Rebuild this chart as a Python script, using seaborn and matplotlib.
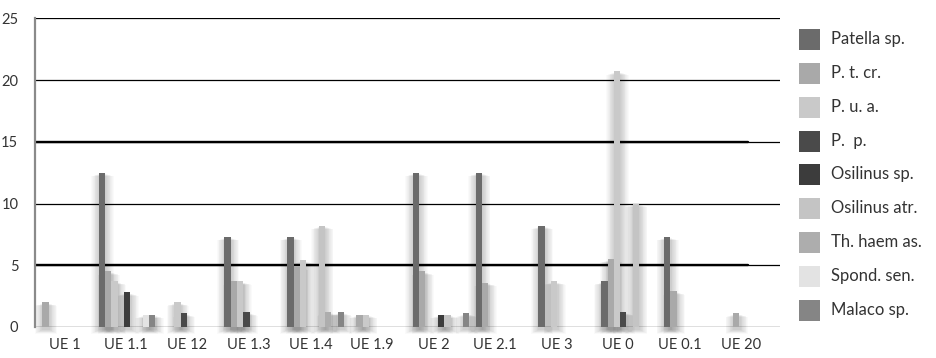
import numpy as np
import pandas as pd
import matplotlib
matplotlib.use("Agg")
import matplotlib.pyplot as plt
from matplotlib.patches import Rectangle
import seaborn as sns

# Excavation units (x categories) and taxa (series)
units = ["UE 1", "UE 1.1", "UE 12", "UE 1.3", "UE 1.4", "UE 1.9",
         "UE 2", "UE 2.1", "UE 3", "UE 0", "UE 0.1", "UE 20"]
taxa = ["Patella sp.", "P. t. cr.", "P. u. a.", "P.  p.", "Osilinus sp.",
        "Osilinus atr.", "Th. haem as.", "Spond. sen.", "Malaco sp."]

patella      = [0.0, 12.5, 0.0, 7.3, 7.3, 0.0, 12.5, 12.5, 8.2, 3.7, 7.3, 0.0]
p_t_cr       = [2.0, 4.5, 0.0, 3.7, 4.9, 1.0, 4.5, 3.6, 0.0, 5.5, 2.9, 1.1]
p_u_a        = [0.0, 3.7, 2.0, 3.7, 5.4, 1.0, 0.0, 0.0, 3.7, 20.7, 0.0, 0.0]
p_p          = [0.0, 0.0, 1.1, 1.2, 0.0, 0.0, 0.0, 0.0, 0.0, 1.2, 0.0, 0.0]
osilinus_sp  = [0.0, 2.8, 0.0, 0.0, 0.0, 0.0, 1.0, 0.0, 0.0, 0.0, 0.0, 0.0]
osilinus_atr = [0.0, 0.0, 0.0, 0.0, 8.2, 0.0, 1.0, 0.0, 0.0, 10.0, 0.0, 0.0]
th_haem      = [0.0, 0.0, 0.0, 0.0, 1.2, 0.0, 0.0, 0.0, 0.0, 0.0, 0.0, 0.0]
spond_sen    = [0.0, 1.0, 0.0, 0.0, 0.0, 0.0, 0.0, 0.0, 0.0, 0.0, 0.0, 0.0]
malaco       = [0.0, 1.0, 0.0, 0.0, 1.2, 0.0, 1.1, 0.0, 0.0, 0.0, 0.0, 0.0]

series = [patella, p_t_cr, p_u_a, p_p, osilinus_sp,
          osilinus_atr, th_haem, spond_sen, malaco]
colors = ["#6b6b6b", "#a9a9a9", "#c9c9c9", "#4a4a4a", "#3c3c3c",
          "#c4c4c4", "#adadad", "#e3e3e3", "#858585"]

df = pd.DataFrame(
    [(u, t, v) for t, vals in zip(taxa, series) for u, v in zip(units, vals)],
    columns=["unit", "taxon", "value"],
)

sns.set_theme(style="white")
plt.rcParams["font.family"] = ["Lato", "DejaVu Sans"]

W, H = 936, 358
fig = plt.figure(figsize=(W / 100, H / 100), dpi=100)
ax_left, ax_right, ax_top, ax_bottom = 35, 780, 18.3, 327
ax = fig.add_axes([ax_left / W, (H - ax_bottom) / H,
                   (ax_right - ax_left) / W, (ax_bottom - ax_top) / H])

sns.barplot(data=df, x="unit", y="value", hue="taxon",
            order=units, hue_order=taxa, palette=colors,
            width=0.9, saturation=1, dodge=True, legend=False,
            errorbar=None, linewidth=0, ax=ax, zorder=3)

ax.set_ylim(0, 25)
ax.set_xlim(-0.467, 11.396)

# pixel -> data conversion factors
px_x = (ax.get_xlim()[1] - ax.get_xlim()[0]) / (ax_right - ax_left)
px_y = 25 / (ax_bottom - ax_top)

# soft drop shadows behind the bars
for p in list(ax.patches):
    h = p.get_height()
    if h <= 0:
        continue
    x0, w = p.get_x(), p.get_width()
    for k in range(1, 11):
        pad = k * 0.8
        ax.add_patch(Rectangle(
            (x0 + (0.5 - pad) * px_x, (-2.5 - pad * 0.5) * px_y),
            w + 2 * pad * px_x, h + (1.5 + pad * 0.2) * px_y,
            facecolor="black", alpha=0.02, linewidth=0,
            zorder=1, clip_on=False))

# horizontal rules
for yv in [0, 10, 20, 25]:
    ax.axhline(yv, color="black", lw=0.9, zorder=0.5)
for yv in [5, 15]:
    ax.axhline(yv, color="black", lw=0.9, zorder=0.5)
    ax.axhline(yv, xmin=0, xmax=(748 - ax_left) / (ax_right - ax_left),
               color="black", lw=1.7, zorder=0.5)

for s in ["top", "right", "bottom"]:
    ax.spines[s].set_visible(False)
ax.spines["left"].set_color("#8a8a8a")
ax.spines["left"].set_linewidth(1.6)

ax.set_yticks([0, 5, 10, 15, 20, 25])
ax.tick_params(axis="y", direction="out", length=4, width=1,
               color="#8a8a8a", labelsize=10.5, labelcolor="#333333", pad=8)
ax.tick_params(axis="x", length=0, labelsize=10.5, labelcolor="#333333", pad=8)
ax.set_xticks(np.arange(len(units)) * 0.98)
ax.set_xticklabels(units)
ax.set_xlabel("")
ax.set_ylabel("")

# legend: swatch column with labels on the right
leg_y = [39, 73, 107, 141, 174, 208, 242, 276, 310]
for name, col, yc in zip(taxa, colors, leg_y):
    fig.patches.append(Rectangle(
        (799 / W, (H - yc - 10.5) / H), 21 / W, 21 / H,
        transform=fig.transFigure, facecolor=col, edgecolor="none"))
    fig.text(831 / W, (H - yc) / H, name, fontsize=12,
             color="#333333", va="center", ha="left")

fig.savefig("out.png", dpi=100)
